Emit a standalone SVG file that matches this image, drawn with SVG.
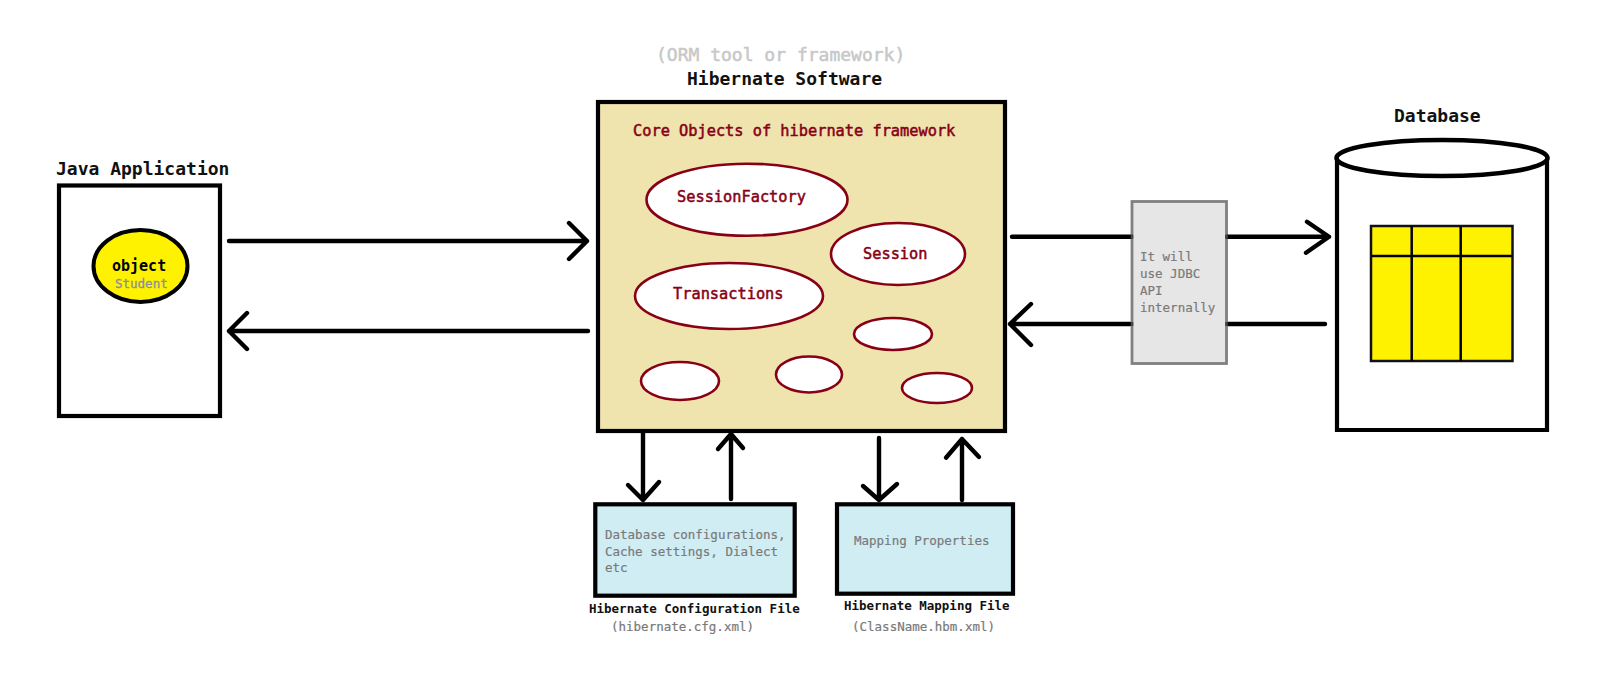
<svg xmlns="http://www.w3.org/2000/svg" width="1600" height="676" viewBox="0 0 1600 676">
<style>
text{font-family:"DejaVu Sans Mono","Liberation Mono",monospace;white-space:pre}
.h{font-size:18px;font-weight:bold;fill:#111}
.c{font-size:15.3px;fill:#880015;stroke:#880015;stroke-width:.5}
.g{font-size:12.5px;fill:#7a7a7a;stroke:#7a7a7a;stroke-width:.2}
.f{font-size:12.5px;font-weight:bold;fill:#111}
.box{stroke:#000;stroke-width:4.2}
.oval{fill:#fff;stroke:#880015;stroke-width:2.6}
.line{fill:none;stroke:#000;stroke-width:4.4;stroke-linecap:round;stroke-linejoin:round}
.tick{fill:#444}
</style>
<rect width="1600" height="676" fill="#fff"/>
<g id="java-application">
<text class="h" x="56" y="175">Java Application</text>
<rect class="box" x="59" y="185.5" width="161" height="230.5" fill="#fff"/>
<g id="object">
<ellipse cx="140.500" cy="266" rx="47" ry="36" fill="#fff200" stroke="#000" stroke-width="4"/>
<text x="112" y="270.500" style="font-size:15px;font-weight:bold;fill:#000">object</text>
<text x="115" y="288" style="font-size:12.5px;fill:#8a8f9c;stroke:#8a8f9c;stroke-width:.3">Student</text>
</g>
</g>
<g id="hibernate-software">
<text x="656" y="61" style="font-size:18px;fill:#c8c8c8;stroke:#c8c8c8;stroke-width:.5">(ORM tool or framework)</text>
<text class="h" x="687" y="85">Hibernate Software</text>
<rect class="box" x="598" y="102" width="407" height="329" fill="#efe3ae"/>
<text class="c" x="633" y="135.500">Core Objects of hibernate framework</text>
<g id="session-factory"><ellipse class="oval" cx="747" cy="199.700" rx="100.500" ry="36"/><text class="c" x="677" y="201.700">SessionFactory</text></g>
<g id="session"><ellipse class="oval" cx="898" cy="254" rx="67" ry="31"/><text class="c" x="863" y="259">Session</text></g>
<g id="transactions"><ellipse class="oval" cx="729" cy="296" rx="94" ry="33"/><text class="c" x="673" y="299">Transactions</text></g>
<g id="oval-1"><ellipse class="oval" cx="893" cy="334" rx="39" ry="16"/></g>
<g id="oval-2"><ellipse class="oval" cx="680" cy="381" rx="39" ry="19"/></g>
<g id="oval-3"><ellipse class="oval" cx="809" cy="374.500" rx="33" ry="18"/></g>
<g id="oval-4"><ellipse class="oval" cx="937" cy="388" rx="35" ry="15"/></g>
</g>
<g id="config-file">
<rect class="box" x="595.300" y="504.300" width="199.400" height="91.400" fill="#d0edf4"/>
<text class="g" x="605" y="539">Database configurations,</text>
<text class="g" x="605" y="555.700">Cache settings, Dialect</text>
<text class="g" x="605" y="572">etc</text>
<text class="f" x="589" y="612.700">Hibernate Configuration File</text>
<text class="g" x="611" y="631">(hibernate.cfg.xml)</text>
</g>
<g id="mapping-file">
<rect class="box" x="837" y="504.300" width="176" height="89.400" fill="#d0edf4"/>
<text class="g" x="854" y="545">Mapping Properties</text>
<text class="f" x="844" y="610">Hibernate Mapping File</text>
<text class="g" x="852" y="631">(ClassName.hbm.xml)</text>
</g>
<g id="jdbc">
<rect x="1132" y="201.500" width="94.500" height="162" fill="#e6e6e6" stroke="#808080" stroke-width="2.800"/>
<text class="g" x="1140" y="261">It will</text>
<text class="g" x="1140" y="277.700">use JDBC</text>
<text class="g" x="1140" y="295">API</text>
<text class="g" x="1140" y="311.700">internally</text>
</g>
<g id="database">
<text class="h" x="1394" y="121.700">Database</text>
<path d="M1337 158V430H1547V158" fill="#fff" stroke="#000" stroke-width="4.200"/>
<ellipse cx="1442" cy="158" rx="105.500" ry="18" fill="#fff" stroke="#000" stroke-width="4.600"/>
<g id="table">
<rect x="1371" y="226" width="141.500" height="135" fill="#fff200" stroke="#111" stroke-width="2.500"/>
<path d="M1411.700 226V361M1460.700 226V361M1371 256H1512.500" fill="none" stroke="#000" stroke-width="2.500"/>
</g>
</g>
<g id="connectors">
<path class="line" d="M229 241H587M569 223L587 241L569 259"/>
<path class="line" d="M588 331H229M247 313L229 331L247 349"/>
<path class="line" d="M1012 236.700H1130.500"/>
<path class="line" d="M1227.500 236.700H1329M1307 221.700L1329 236.700L1306 252.700"/>
<path class="line" d="M1325 324H1228"/>
<path class="line" d="M1130 324H1010M1031 304L1010 324L1031 345"/>
<path class="line" d="M643 433V500M628 485L643 500L659 482"/>
<path class="line" d="M731 499V434M718 449L731 434L743 448"/>
<path class="line" d="M879 438V500M863 486L879 500L897 484"/>
<path class="line" d="M962 500V439M946 457.700L962 439L979 457"/>
<rect class="tick" x="1130.700" y="234.700" width="2.600" height="4"/>
<rect class="tick" x="1225.200" y="234.700" width="2.600" height="4"/>
<rect class="tick" x="1130.700" y="322" width="2.600" height="4"/>
<rect class="tick" x="1225.200" y="322" width="2.600" height="4"/>
</g>
</svg>
